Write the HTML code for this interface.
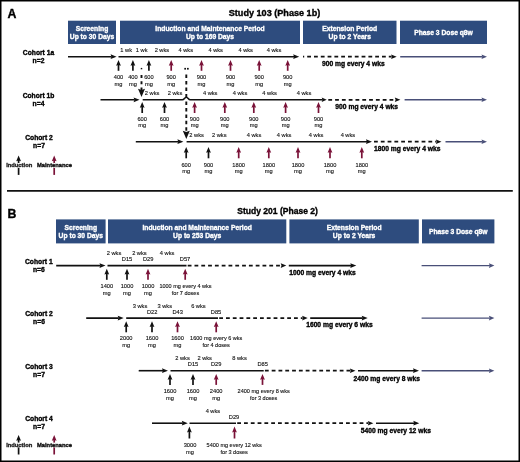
<!DOCTYPE html>
<html><head><meta charset="utf-8"><title>Study dosing schema</title>
<style>
html,body{margin:0;padding:0;background:#fff;}
body{width:520px;height:462px;overflow:hidden;position:relative;}
svg{position:absolute;left:0;top:0;display:block;will-change:transform;font-family:"Liberation Sans", sans-serif;}
</style></head><body>
<svg width="520" height="462" viewBox="0 0 520 462">
<rect x="0" y="0" width="520" height="462" fill="#fff"/>
<text x="7.6" y="17.6" font-size="12.3" font-weight="bold" stroke="#000" stroke-width="0.35" text-anchor="start" fill="#000">A</text>
<text transform="translate(274.5 16.0) scale(0.98 1)" font-size="9.3" font-weight="bold" stroke="#000" stroke-width="0.35" text-anchor="middle" fill="#000">Study 103 (Phase 1b)</text>
<rect x="68" y="20.7" width="48" height="23.3" fill="#2e4c7e"/>
<text transform="translate(92.0 31.0) scale(0.96 1)" font-size="7.0" font-weight="bold" stroke="#fff" stroke-width="0.35" text-anchor="middle" fill="#fff">Screening</text>
<text transform="translate(92.0 39.1) scale(0.96 1)" font-size="7.0" font-weight="bold" stroke="#fff" stroke-width="0.35" text-anchor="middle" fill="#fff">Up to 30 Days</text>
<rect x="120" y="20.7" width="180" height="23.3" fill="#2e4c7e"/>
<text transform="translate(210.0 31.0) scale(0.96 1)" font-size="7.0" font-weight="bold" stroke="#fff" stroke-width="0.35" text-anchor="middle" fill="#fff">Induction and Maintenance Period</text>
<text transform="translate(210.0 39.1) scale(0.96 1)" font-size="7.0" font-weight="bold" stroke="#fff" stroke-width="0.35" text-anchor="middle" fill="#fff">Up to 169 Days</text>
<rect x="303" y="20.7" width="93.5" height="23.3" fill="#2e4c7e"/>
<text transform="translate(349.75 31.0) scale(0.96 1)" font-size="7.0" font-weight="bold" stroke="#fff" stroke-width="0.35" text-anchor="middle" fill="#fff">Extension Period</text>
<text transform="translate(349.75 39.1) scale(0.96 1)" font-size="7.0" font-weight="bold" stroke="#fff" stroke-width="0.35" text-anchor="middle" fill="#fff">Up to 2 Years</text>
<rect x="400" y="20.7" width="87" height="23.3" fill="#2e4c7e"/>
<text transform="translate(443.5 35.0) scale(0.96 1)" font-size="7.0" font-weight="bold" stroke="#fff" stroke-width="0.35" text-anchor="middle" fill="#fff">Phase 3 Dose q8w</text>
<text transform="translate(38.5 55.0) scale(0.96 1)" font-size="7.0" font-weight="bold" stroke="#000" stroke-width="0.35" text-anchor="middle" fill="#000">Cohort 1a</text>
<text transform="translate(38.5 63.2) scale(0.96 1)" font-size="7.0" font-weight="bold" stroke="#000" stroke-width="0.35" text-anchor="middle" fill="#000">n=2</text>
<text transform="translate(38.5 97.6) scale(0.96 1)" font-size="7.0" font-weight="bold" stroke="#000" stroke-width="0.35" text-anchor="middle" fill="#000">Cohort 1b</text>
<text transform="translate(38.5 105.8) scale(0.96 1)" font-size="7.0" font-weight="bold" stroke="#000" stroke-width="0.35" text-anchor="middle" fill="#000">n=4</text>
<text transform="translate(39 140.0) scale(0.96 1)" font-size="7.0" font-weight="bold" stroke="#000" stroke-width="0.35" text-anchor="middle" fill="#000">Cohort 2</text>
<text transform="translate(39 148.2) scale(0.96 1)" font-size="7.0" font-weight="bold" stroke="#000" stroke-width="0.35" text-anchor="middle" fill="#000">n=7</text>
<line x1="68" y1="56.7" x2="111.6" y2="56.7" stroke="#111" stroke-width="1.6"/>
<polygon points="116.6,56.7 110.6,54.3 111.4,56.7 110.6,59.1" fill="#111"/>
<line x1="118.5" y1="56.7" x2="294.2" y2="56.7" stroke="#111" stroke-width="1.6"/>
<polygon points="299.2,56.7 293.2,54.3 294.0,56.7 293.2,59.1" fill="#111"/>
<line x1="303.0" y1="56.7" x2="391.6" y2="56.7" stroke="#111" stroke-width="1.8" stroke-dasharray="3.8 3.0" stroke-dashoffset="2.6"/>
<polygon points="396.7,56.7 391.1,54.4 391.9,56.7 391.1,59.0" fill="#111"/>
<line x1="400.2" y1="56.7" x2="482.5" y2="56.7" stroke="#494f78" stroke-width="1.4"/>
<polygon points="487,56.7 481.5,54.4 482.3,56.7 481.5,59.0" fill="#494f78"/>
<line x1="118.5" y1="64.0" x2="118.5" y2="70.8" stroke="#111" stroke-width="1.7"/>
<polygon points="118.5,60.0 116.1,65.8 118.5,65.0 120.9,65.8" fill="#111"/>
<line x1="132.9" y1="64.0" x2="132.9" y2="70.8" stroke="#111" stroke-width="1.7"/>
<polygon points="132.9,60.0 130.5,65.8 132.9,65.0 135.3,65.8" fill="#111"/>
<line x1="148.9" y1="64.0" x2="148.9" y2="70.8" stroke="#111" stroke-width="1.7"/>
<polygon points="148.9,60.0 146.5,65.8 148.9,65.0 151.3,65.8" fill="#111"/>
<line x1="171.2" y1="64.0" x2="171.2" y2="70.8" stroke="#7a1238" stroke-width="1.7"/>
<polygon points="171.2,60.0 168.8,65.8 171.2,65.0 173.6,65.8" fill="#7a1238"/>
<line x1="201.5" y1="64.0" x2="201.5" y2="70.8" stroke="#7a1238" stroke-width="1.7"/>
<polygon points="201.5,60.0 199.1,65.8 201.5,65.0 203.9,65.8" fill="#7a1238"/>
<line x1="230.5" y1="64.0" x2="230.5" y2="70.8" stroke="#7a1238" stroke-width="1.7"/>
<polygon points="230.5,60.0 228.1,65.8 230.5,65.0 232.9,65.8" fill="#7a1238"/>
<line x1="259.2" y1="64.0" x2="259.2" y2="70.8" stroke="#7a1238" stroke-width="1.7"/>
<polygon points="259.2,60.0 256.8,65.8 259.2,65.0 261.6,65.8" fill="#7a1238"/>
<line x1="287.7" y1="64.0" x2="287.7" y2="70.8" stroke="#7a1238" stroke-width="1.7"/>
<polygon points="287.7,60.0 285.3,65.8 287.7,65.0 290.1,65.8" fill="#7a1238"/>
<text x="118.5" y="79.0" font-size="5.7" stroke="#111" stroke-width="0.12" text-anchor="middle" fill="#111">400</text>
<text x="118.5" y="85.6" font-size="5.7" stroke="#111" stroke-width="0.12" text-anchor="middle" fill="#111">mg</text>
<text x="132.9" y="79.0" font-size="5.7" stroke="#111" stroke-width="0.12" text-anchor="middle" fill="#111">400</text>
<text x="132.9" y="85.6" font-size="5.7" stroke="#111" stroke-width="0.12" text-anchor="middle" fill="#111">mg</text>
<text x="148.9" y="79.0" font-size="5.7" stroke="#111" stroke-width="0.12" text-anchor="middle" fill="#111">600</text>
<text x="148.9" y="85.6" font-size="5.7" stroke="#111" stroke-width="0.12" text-anchor="middle" fill="#111">mg</text>
<text x="171.2" y="79.0" font-size="5.7" stroke="#111" stroke-width="0.12" text-anchor="middle" fill="#111">900</text>
<text x="171.2" y="85.6" font-size="5.7" stroke="#111" stroke-width="0.12" text-anchor="middle" fill="#111">mg</text>
<text x="201.5" y="79.0" font-size="5.7" stroke="#111" stroke-width="0.12" text-anchor="middle" fill="#111">900</text>
<text x="201.5" y="85.6" font-size="5.7" stroke="#111" stroke-width="0.12" text-anchor="middle" fill="#111">mg</text>
<text x="230.5" y="79.0" font-size="5.7" stroke="#111" stroke-width="0.12" text-anchor="middle" fill="#111">900</text>
<text x="230.5" y="85.6" font-size="5.7" stroke="#111" stroke-width="0.12" text-anchor="middle" fill="#111">mg</text>
<text x="259.2" y="79.0" font-size="5.7" stroke="#111" stroke-width="0.12" text-anchor="middle" fill="#111">900</text>
<text x="259.2" y="85.6" font-size="5.7" stroke="#111" stroke-width="0.12" text-anchor="middle" fill="#111">mg</text>
<text x="287.7" y="79.0" font-size="5.7" stroke="#111" stroke-width="0.12" text-anchor="middle" fill="#111">900</text>
<text x="287.7" y="85.6" font-size="5.7" stroke="#111" stroke-width="0.12" text-anchor="middle" fill="#111">mg</text>
<text x="126.2" y="52.0" font-size="5.7" stroke="#111" stroke-width="0.12" text-anchor="middle" fill="#111">1 wk</text>
<text x="141.7" y="52.0" font-size="5.7" stroke="#111" stroke-width="0.12" text-anchor="middle" fill="#111">1 wk</text>
<text x="161.9" y="52.0" font-size="5.7" stroke="#111" stroke-width="0.12" text-anchor="middle" fill="#111">2 wks</text>
<text x="185.8" y="52.0" font-size="5.7" stroke="#111" stroke-width="0.12" text-anchor="middle" fill="#111">4 wks</text>
<text x="215.7" y="52.0" font-size="5.7" stroke="#111" stroke-width="0.12" text-anchor="middle" fill="#111">4 wks</text>
<text x="245.7" y="52.0" font-size="5.7" stroke="#111" stroke-width="0.12" text-anchor="middle" fill="#111">4 wks</text>
<text x="274.0" y="52.0" font-size="5.7" stroke="#111" stroke-width="0.12" text-anchor="middle" fill="#111">4 wks</text>
<text transform="translate(353.3 66.0) scale(0.96 1)" font-size="7.0" font-weight="bold" stroke="#000" stroke-width="0.35" text-anchor="middle" fill="#000">900 mg every 4 wks</text>
<line x1="100.5" y1="99.8" x2="134.6" y2="99.8" stroke="#111" stroke-width="1.6"/>
<polygon points="139.6,99.8 133.6,97.4 134.4,99.8 133.6,102.2" fill="#111"/>
<path d="M142.7 99.8 H182.4 C184.2 99.8 184.6 97.2 186.3 97.2 C188.0 97.2 188.4 99.8 190.2 99.8 H322.7" stroke="#111" stroke-width="1.6" fill="none"/>
<polygon points="326.7,99.8 321.7,97.6 322.5,99.8 321.7,102.0" fill="#111"/>
<line x1="328.3" y1="99.8" x2="395.3" y2="99.8" stroke="#111" stroke-width="1.8" stroke-dasharray="3.8 3.0"/>
<polygon points="400.4,99.8 394.8,97.5 395.6,99.8 394.8,102.1" fill="#111"/>
<line x1="404.6" y1="99.8" x2="482.5" y2="99.8" stroke="#494f78" stroke-width="1.4"/>
<polygon points="487,99.8 481.5,97.5 482.3,99.8 481.5,102.1" fill="#494f78"/>
<line x1="142.2" y1="105.9" x2="142.2" y2="113.0" stroke="#111" stroke-width="1.7"/>
<polygon points="142.2,101.9 139.8,107.7 142.2,106.9 144.6,107.7" fill="#111"/>
<line x1="164.5" y1="105.9" x2="164.5" y2="113.0" stroke="#111" stroke-width="1.7"/>
<polygon points="164.5,101.9 162.1,107.7 164.5,106.9 166.9,107.7" fill="#111"/>
<line x1="194.6" y1="105.9" x2="194.6" y2="113.0" stroke="#7a1238" stroke-width="1.7"/>
<polygon points="194.6,101.9 192.2,107.7 194.6,106.9 197.0,107.7" fill="#7a1238"/>
<line x1="224.8" y1="105.9" x2="224.8" y2="113.0" stroke="#7a1238" stroke-width="1.7"/>
<polygon points="224.8,101.9 222.4,107.7 224.8,106.9 227.2,107.7" fill="#7a1238"/>
<line x1="253.8" y1="105.9" x2="253.8" y2="113.0" stroke="#7a1238" stroke-width="1.7"/>
<polygon points="253.8,101.9 251.4,107.7 253.8,106.9 256.2,107.7" fill="#7a1238"/>
<line x1="285.6" y1="105.9" x2="285.6" y2="113.0" stroke="#7a1238" stroke-width="1.7"/>
<polygon points="285.6,101.9 283.2,107.7 285.6,106.9 288.0,107.7" fill="#7a1238"/>
<line x1="318.5" y1="105.9" x2="318.5" y2="113.0" stroke="#7a1238" stroke-width="1.7"/>
<polygon points="318.5,101.9 316.1,107.7 318.5,106.9 320.9,107.7" fill="#7a1238"/>
<text x="142.2" y="120.7" font-size="5.7" stroke="#111" stroke-width="0.12" text-anchor="middle" fill="#111">600</text>
<text x="142.2" y="127.3" font-size="5.7" stroke="#111" stroke-width="0.12" text-anchor="middle" fill="#111">mg</text>
<text x="164.5" y="120.7" font-size="5.7" stroke="#111" stroke-width="0.12" text-anchor="middle" fill="#111">600</text>
<text x="164.5" y="127.3" font-size="5.7" stroke="#111" stroke-width="0.12" text-anchor="middle" fill="#111">mg</text>
<text x="194.6" y="120.7" font-size="5.7" stroke="#111" stroke-width="0.12" text-anchor="middle" fill="#111">900</text>
<text x="194.6" y="127.3" font-size="5.7" stroke="#111" stroke-width="0.12" text-anchor="middle" fill="#111">mg</text>
<text x="224.8" y="120.7" font-size="5.7" stroke="#111" stroke-width="0.12" text-anchor="middle" fill="#111">900</text>
<text x="224.8" y="127.3" font-size="5.7" stroke="#111" stroke-width="0.12" text-anchor="middle" fill="#111">mg</text>
<text x="253.8" y="120.7" font-size="5.7" stroke="#111" stroke-width="0.12" text-anchor="middle" fill="#111">900</text>
<text x="253.8" y="127.3" font-size="5.7" stroke="#111" stroke-width="0.12" text-anchor="middle" fill="#111">mg</text>
<text x="285.6" y="120.7" font-size="5.7" stroke="#111" stroke-width="0.12" text-anchor="middle" fill="#111">900</text>
<text x="285.6" y="127.3" font-size="5.7" stroke="#111" stroke-width="0.12" text-anchor="middle" fill="#111">mg</text>
<text x="318.5" y="120.7" font-size="5.7" stroke="#111" stroke-width="0.12" text-anchor="middle" fill="#111">900</text>
<text x="318.5" y="127.3" font-size="5.7" stroke="#111" stroke-width="0.12" text-anchor="middle" fill="#111">mg</text>
<text x="152.1" y="95.4" font-size="5.7" stroke="#111" stroke-width="0.12" text-anchor="middle" fill="#111">2 wks</text>
<text x="175.0" y="95.4" font-size="5.7" stroke="#111" stroke-width="0.12" text-anchor="middle" fill="#111">2 wks</text>
<text x="210.2" y="95.4" font-size="5.7" stroke="#111" stroke-width="0.12" text-anchor="middle" fill="#111">4 wks</text>
<text x="240.0" y="95.4" font-size="5.7" stroke="#111" stroke-width="0.12" text-anchor="middle" fill="#111">4 wks</text>
<text x="269.6" y="95.4" font-size="5.7" stroke="#111" stroke-width="0.12" text-anchor="middle" fill="#111">4 wks</text>
<text x="304.0" y="95.4" font-size="5.7" stroke="#111" stroke-width="0.12" text-anchor="middle" fill="#111">4 wks</text>
<text transform="translate(366.7 108.7) scale(0.96 1)" font-size="7.0" font-weight="bold" stroke="#000" stroke-width="0.35" text-anchor="middle" fill="#000">900 mg every 4 wks</text>
<line x1="135.8" y1="141.7" x2="178.4" y2="141.7" stroke="#111" stroke-width="1.6"/>
<polygon points="183.4,141.7 177.4,139.3 178.2,141.7 177.4,144.1" fill="#111"/>
<line x1="186.6" y1="141.7" x2="367.0" y2="141.7" stroke="#111" stroke-width="1.6"/>
<polygon points="372.0,141.7 366.0,139.3 366.8,141.7 366.0,144.1" fill="#111"/>
<line x1="374.0" y1="141.7" x2="436.4" y2="141.7" stroke="#111" stroke-width="1.8" stroke-dasharray="3.8 3.0"/>
<polygon points="441.5,141.7 435.9,139.4 436.7,141.7 435.9,144.0" fill="#111"/>
<line x1="445.5" y1="141.7" x2="482.5" y2="141.7" stroke="#494f78" stroke-width="1.4"/>
<polygon points="487,141.7 481.5,139.4 482.3,141.7 481.5,144.0" fill="#494f78"/>
<line x1="186.2" y1="150.9" x2="186.2" y2="158.3" stroke="#111" stroke-width="1.7"/>
<polygon points="186.2,146.9 183.8,152.7 186.2,151.9 188.6,152.7" fill="#111"/>
<line x1="208.5" y1="150.9" x2="208.5" y2="158.3" stroke="#111" stroke-width="1.7"/>
<polygon points="208.5,146.9 206.1,152.7 208.5,151.9 210.9,152.7" fill="#111"/>
<line x1="238.7" y1="150.9" x2="238.7" y2="158.3" stroke="#7a1238" stroke-width="1.7"/>
<polygon points="238.7,146.9 236.3,152.7 238.7,151.9 241.1,152.7" fill="#7a1238"/>
<line x1="268.8" y1="150.9" x2="268.8" y2="158.3" stroke="#7a1238" stroke-width="1.7"/>
<polygon points="268.8,146.9 266.4,152.7 268.8,151.9 271.2,152.7" fill="#7a1238"/>
<line x1="298.0" y1="150.9" x2="298.0" y2="158.3" stroke="#7a1238" stroke-width="1.7"/>
<polygon points="298.0,146.9 295.6,152.7 298.0,151.9 300.4,152.7" fill="#7a1238"/>
<line x1="330.0" y1="150.9" x2="330.0" y2="158.3" stroke="#7a1238" stroke-width="1.7"/>
<polygon points="330.0,146.9 327.6,152.7 330.0,151.9 332.4,152.7" fill="#7a1238"/>
<line x1="361.8" y1="150.9" x2="361.8" y2="158.3" stroke="#7a1238" stroke-width="1.7"/>
<polygon points="361.8,146.9 359.4,152.7 361.8,151.9 364.2,152.7" fill="#7a1238"/>
<text x="186.2" y="166.5" font-size="5.7" stroke="#111" stroke-width="0.12" text-anchor="middle" fill="#111">600</text>
<text x="186.2" y="173.1" font-size="5.7" stroke="#111" stroke-width="0.12" text-anchor="middle" fill="#111">mg</text>
<text x="208.5" y="166.5" font-size="5.7" stroke="#111" stroke-width="0.12" text-anchor="middle" fill="#111">900</text>
<text x="208.5" y="173.1" font-size="5.7" stroke="#111" stroke-width="0.12" text-anchor="middle" fill="#111">mg</text>
<text x="238.7" y="166.5" font-size="5.7" stroke="#111" stroke-width="0.12" text-anchor="middle" fill="#111">1800</text>
<text x="238.7" y="173.1" font-size="5.7" stroke="#111" stroke-width="0.12" text-anchor="middle" fill="#111">mg</text>
<text x="268.8" y="166.5" font-size="5.7" stroke="#111" stroke-width="0.12" text-anchor="middle" fill="#111">1800</text>
<text x="268.8" y="173.1" font-size="5.7" stroke="#111" stroke-width="0.12" text-anchor="middle" fill="#111">mg</text>
<text x="298.0" y="166.5" font-size="5.7" stroke="#111" stroke-width="0.12" text-anchor="middle" fill="#111">1800</text>
<text x="298.0" y="173.1" font-size="5.7" stroke="#111" stroke-width="0.12" text-anchor="middle" fill="#111">mg</text>
<text x="330.0" y="166.5" font-size="5.7" stroke="#111" stroke-width="0.12" text-anchor="middle" fill="#111">1800</text>
<text x="330.0" y="173.1" font-size="5.7" stroke="#111" stroke-width="0.12" text-anchor="middle" fill="#111">mg</text>
<text x="361.8" y="166.5" font-size="5.7" stroke="#111" stroke-width="0.12" text-anchor="middle" fill="#111">1800</text>
<text x="361.8" y="173.1" font-size="5.7" stroke="#111" stroke-width="0.12" text-anchor="middle" fill="#111">mg</text>
<text x="196.6" y="137.0" font-size="5.7" stroke="#111" stroke-width="0.12" text-anchor="middle" fill="#111">2 wks</text>
<text x="219.3" y="137.0" font-size="5.7" stroke="#111" stroke-width="0.12" text-anchor="middle" fill="#111">2 wks</text>
<text x="254.0" y="137.0" font-size="5.7" stroke="#111" stroke-width="0.12" text-anchor="middle" fill="#111">4 wks</text>
<text x="284.1" y="137.0" font-size="5.7" stroke="#111" stroke-width="0.12" text-anchor="middle" fill="#111">4 wks</text>
<text x="316.1" y="137.0" font-size="5.7" stroke="#111" stroke-width="0.12" text-anchor="middle" fill="#111">4 wks</text>
<text x="347.9" y="137.0" font-size="5.7" stroke="#111" stroke-width="0.12" text-anchor="middle" fill="#111">4 wks</text>
<text transform="translate(407.2 151.0) scale(0.96 1)" font-size="7.0" font-weight="bold" stroke="#000" stroke-width="0.35" text-anchor="middle" fill="#000">1800 mg every 4 wks</text>
<line x1="141.5" y1="67.9" x2="141.5" y2="69.3" stroke="#111" stroke-width="1.5"/>
<line x1="141.5" y1="75.0" x2="141.5" y2="90.5" stroke="#111" stroke-width="1.9" stroke-dasharray="3 3.3"/>
<polygon points="141.5,97.0 138.0,88.7 141.5,89.9 145.0,88.7" fill="#111"/>
<rect x="184.3" y="67.9" width="1.7" height="1.7" fill="#111"/>
<rect x="187.0" y="67.9" width="1.7" height="1.7" fill="#111"/>
<line x1="186.3" y1="74.4" x2="186.3" y2="97.0" stroke="#111" stroke-width="1.9" stroke-dasharray="3.5 3"/>
<line x1="186.3" y1="101.6" x2="186.3" y2="131.5" stroke="#111" stroke-width="1.9" stroke-dasharray="3.5 2.9"/>
<polygon points="186.3,139.0 182.8,130.7 186.3,131.9 189.8,130.7" fill="#111"/>
<line x1="18.6" y1="159.4" x2="18.6" y2="174.9" stroke="#111" stroke-width="1.7"/>
<polygon points="18.6,155.4 16.2,161.2 18.6,160.4 21.0,161.2" fill="#111"/>
<line x1="54.2" y1="159.4" x2="54.2" y2="174.9" stroke="#7a1238" stroke-width="1.7"/>
<polygon points="54.2,155.4 51.8,161.2 54.2,160.4 56.6,161.2" fill="#7a1238"/>
<rect x="5" y="163.0" width="28" height="4.8" fill="#fff"/>
<rect x="36" y="163.0" width="37" height="4.8" fill="#fff"/>
<text x="19.2" y="167.4" font-size="5.8" font-weight="bold" stroke="#222" stroke-width="0.35" text-anchor="middle" fill="#222">Induction</text>
<text x="54.5" y="167.4" font-size="5.8" font-weight="bold" stroke="#111" stroke-width="0.35" text-anchor="middle" fill="#111">Maintenance</text>
<line x1="7" y1="190.9" x2="512.8" y2="190.9" stroke="#111" stroke-width="1.8"/>
<text x="7.6" y="217.6" font-size="12.3" font-weight="bold" stroke="#000" stroke-width="0.35" text-anchor="start" fill="#000">B</text>
<text transform="translate(277.6 214.3) scale(0.95 1)" font-size="9.0" font-weight="bold" stroke="#000" stroke-width="0.35" text-anchor="middle" fill="#000">Study 201 (Phase 2)</text>
<rect x="56" y="219.4" width="49.6" height="24.0" fill="#2e4c7e"/>
<text transform="translate(80.8 229.7) scale(0.96 1)" font-size="7.0" font-weight="bold" stroke="#fff" stroke-width="0.35" text-anchor="middle" fill="#fff">Screening</text>
<text transform="translate(80.8 237.8) scale(0.96 1)" font-size="7.0" font-weight="bold" stroke="#fff" stroke-width="0.35" text-anchor="middle" fill="#fff">Up to 30 Days</text>
<rect x="108" y="219.4" width="178.3" height="24.0" fill="#2e4c7e"/>
<text transform="translate(197.15 229.7) scale(0.96 1)" font-size="7.0" font-weight="bold" stroke="#fff" stroke-width="0.35" text-anchor="middle" fill="#fff">Induction and Maintenance Period</text>
<text transform="translate(197.15 237.8) scale(0.96 1)" font-size="7.0" font-weight="bold" stroke="#fff" stroke-width="0.35" text-anchor="middle" fill="#fff">Up to 253 Days</text>
<rect x="289.4" y="219.4" width="129.4" height="24.0" fill="#2e4c7e"/>
<text transform="translate(354.1 229.7) scale(0.96 1)" font-size="7.0" font-weight="bold" stroke="#fff" stroke-width="0.35" text-anchor="middle" fill="#fff">Extension Period</text>
<text transform="translate(354.1 237.8) scale(0.96 1)" font-size="7.0" font-weight="bold" stroke="#fff" stroke-width="0.35" text-anchor="middle" fill="#fff">Up to 2 Years</text>
<rect x="422" y="219.4" width="72.4" height="24.0" fill="#2e4c7e"/>
<text transform="translate(458.2 233.7) scale(0.96 1)" font-size="7.0" font-weight="bold" stroke="#fff" stroke-width="0.35" text-anchor="middle" fill="#fff">Phase 3 Dose q8w</text>
<text transform="translate(38.8 263.5) scale(0.96 1)" font-size="7.0" font-weight="bold" stroke="#000" stroke-width="0.35" text-anchor="middle" fill="#000">Cohort 1</text>
<text transform="translate(38.8 271.7) scale(0.96 1)" font-size="7.0" font-weight="bold" stroke="#000" stroke-width="0.35" text-anchor="middle" fill="#000">n=6</text>
<text transform="translate(39 316.0) scale(0.96 1)" font-size="7.0" font-weight="bold" stroke="#000" stroke-width="0.35" text-anchor="middle" fill="#000">Cohort 2</text>
<text transform="translate(39 324.2) scale(0.96 1)" font-size="7.0" font-weight="bold" stroke="#000" stroke-width="0.35" text-anchor="middle" fill="#000">n=6</text>
<text transform="translate(39 368.5) scale(0.96 1)" font-size="7.0" font-weight="bold" stroke="#000" stroke-width="0.35" text-anchor="middle" fill="#000">Cohort 3</text>
<text transform="translate(39 376.7) scale(0.96 1)" font-size="7.0" font-weight="bold" stroke="#000" stroke-width="0.35" text-anchor="middle" fill="#000">n=7</text>
<text transform="translate(39 421.0) scale(0.96 1)" font-size="7.0" font-weight="bold" stroke="#000" stroke-width="0.35" text-anchor="middle" fill="#000">Cohort 4</text>
<text transform="translate(39 429.2) scale(0.96 1)" font-size="7.0" font-weight="bold" stroke="#000" stroke-width="0.35" text-anchor="middle" fill="#000">n=7</text>
<line x1="56.2" y1="265.6" x2="100.5" y2="265.6" stroke="#111" stroke-width="1.6"/>
<polygon points="105.5,265.6 99.5,263.2 100.3,265.6 99.5,268.0" fill="#111"/>
<line x1="107.5" y1="265.6" x2="186.5" y2="265.6" stroke="#111" stroke-width="1.6"/>
<line x1="187.7" y1="265.6" x2="281.2" y2="265.6" stroke="#111" stroke-width="1.8" stroke-dasharray="3.8 3.0"/>
<polygon points="286.3,265.6 280.7,263.3 281.5,265.6 280.7,267.9" fill="#111"/>
<line x1="288.8" y1="265.6" x2="351.3" y2="265.6" stroke="#111" stroke-width="1.6"/>
<polygon points="356.3,265.6 350.3,263.2 351.1,265.6 350.3,268.0" fill="#111"/>
<line x1="421.6" y1="265.6" x2="489.9" y2="265.6" stroke="#494f78" stroke-width="1.4"/>
<polygon points="494.4,265.6 488.9,263.3 489.7,265.6 488.9,267.9" fill="#494f78"/>
<line x1="106.8" y1="272.8" x2="106.8" y2="279.8" stroke="#111" stroke-width="1.7"/>
<polygon points="106.8,268.8 104.4,274.6 106.8,273.8 109.2,274.6" fill="#111"/>
<line x1="127.0" y1="272.8" x2="127.0" y2="279.8" stroke="#111" stroke-width="1.7"/>
<polygon points="127.0,268.8 124.6,274.6 127.0,273.8 129.4,274.6" fill="#111"/>
<line x1="148.0" y1="272.8" x2="148.0" y2="279.8" stroke="#7a1238" stroke-width="1.7"/>
<polygon points="148.0,268.8 145.6,274.6 148.0,273.8 150.4,274.6" fill="#7a1238"/>
<line x1="185.2" y1="272.8" x2="185.2" y2="279.8" stroke="#7a1238" stroke-width="1.7"/>
<polygon points="185.2,268.8 182.8,274.6 185.2,273.8 187.6,274.6" fill="#7a1238"/>
<text x="106.8" y="287.8" font-size="5.7" stroke="#111" stroke-width="0.12" text-anchor="middle" fill="#111">1400</text>
<text x="106.8" y="294.7" font-size="5.7" stroke="#111" stroke-width="0.12" text-anchor="middle" fill="#111">mg</text>
<text x="127.0" y="287.8" font-size="5.7" stroke="#111" stroke-width="0.12" text-anchor="middle" fill="#111">1000</text>
<text x="127.0" y="294.7" font-size="5.7" stroke="#111" stroke-width="0.12" text-anchor="middle" fill="#111">mg</text>
<text x="148.0" y="287.8" font-size="5.7" stroke="#111" stroke-width="0.12" text-anchor="middle" fill="#111">1000</text>
<text x="148.0" y="294.7" font-size="5.7" stroke="#111" stroke-width="0.12" text-anchor="middle" fill="#111">mg</text>
<text transform="translate(185.5 287.8) scale(0.97 1)" font-size="5.7" stroke="#111" stroke-width="0.12" text-anchor="middle" fill="#111">1000 mg every 4 wks</text>
<text transform="translate(185.5 294.7) scale(0.97 1)" font-size="5.7" stroke="#111" stroke-width="0.12" text-anchor="middle" fill="#111">for 7 doses</text>
<text x="114.0" y="255.3" font-size="5.7" stroke="#111" stroke-width="0.12" text-anchor="middle" fill="#111">2 wks</text>
<text x="139.4" y="255.3" font-size="5.7" stroke="#111" stroke-width="0.12" text-anchor="middle" fill="#111">2 wks</text>
<text x="167.1" y="255.3" font-size="5.7" stroke="#111" stroke-width="0.12" text-anchor="middle" fill="#111">4 wks</text>
<text x="127.0" y="261.1" font-size="5.7" stroke="#111" stroke-width="0.12" text-anchor="middle" fill="#111">D15</text>
<text x="148.2" y="261.1" font-size="5.7" stroke="#111" stroke-width="0.12" text-anchor="middle" fill="#111">D29</text>
<text x="185.0" y="261.1" font-size="5.7" stroke="#111" stroke-width="0.12" text-anchor="middle" fill="#111">D57</text>
<text transform="translate(322.5 274.7) scale(0.96 1)" font-size="7.0" font-weight="bold" stroke="#000" stroke-width="0.35" text-anchor="middle" fill="#000">1000 mg every 4 wks</text>
<line x1="86.2" y1="318.1" x2="118.7" y2="318.1" stroke="#111" stroke-width="1.6"/>
<polygon points="123.7,318.1 117.7,315.7 118.5,318.1 117.7,320.5" fill="#111"/>
<line x1="126.2" y1="318.1" x2="218.0" y2="318.1" stroke="#111" stroke-width="1.6"/>
<line x1="219.2" y1="318.1" x2="302.6" y2="318.1" stroke="#111" stroke-width="1.8" stroke-dasharray="3.8 3.0"/>
<polygon points="307.7,318.1 302.1,315.8 302.9,318.1 302.1,320.4" fill="#111"/>
<line x1="310.2" y1="318.1" x2="362.7" y2="318.1" stroke="#111" stroke-width="1.6"/>
<polygon points="367.7,318.1 361.7,315.7 362.5,318.1 361.7,320.5" fill="#111"/>
<line x1="421.6" y1="318.1" x2="489.9" y2="318.1" stroke="#494f78" stroke-width="1.4"/>
<polygon points="494.4,318.1 488.9,315.8 489.7,318.1 488.9,320.4" fill="#494f78"/>
<line x1="126.2" y1="325.3" x2="126.2" y2="332.3" stroke="#111" stroke-width="1.7"/>
<polygon points="126.2,321.3 123.8,327.1 126.2,326.3 128.6,327.1" fill="#111"/>
<line x1="152.0" y1="325.3" x2="152.0" y2="332.3" stroke="#111" stroke-width="1.7"/>
<polygon points="152.0,321.3 149.6,327.1 152.0,326.3 154.4,327.1" fill="#111"/>
<line x1="177.5" y1="325.3" x2="177.5" y2="332.3" stroke="#7a1238" stroke-width="1.7"/>
<polygon points="177.5,321.3 175.1,327.1 177.5,326.3 179.9,327.1" fill="#7a1238"/>
<line x1="216.2" y1="325.3" x2="216.2" y2="332.3" stroke="#7a1238" stroke-width="1.7"/>
<polygon points="216.2,321.3 213.8,327.1 216.2,326.3 218.6,327.1" fill="#7a1238"/>
<text x="126.2" y="340.3" font-size="5.7" stroke="#111" stroke-width="0.12" text-anchor="middle" fill="#111">2000</text>
<text x="126.2" y="347.2" font-size="5.7" stroke="#111" stroke-width="0.12" text-anchor="middle" fill="#111">mg</text>
<text x="152.0" y="340.3" font-size="5.7" stroke="#111" stroke-width="0.12" text-anchor="middle" fill="#111">1600</text>
<text x="152.0" y="347.2" font-size="5.7" stroke="#111" stroke-width="0.12" text-anchor="middle" fill="#111">mg</text>
<text x="177.5" y="340.3" font-size="5.7" stroke="#111" stroke-width="0.12" text-anchor="middle" fill="#111">1600</text>
<text x="177.5" y="347.2" font-size="5.7" stroke="#111" stroke-width="0.12" text-anchor="middle" fill="#111">mg</text>
<text transform="translate(216.2 340.3) scale(0.97 1)" font-size="5.7" stroke="#111" stroke-width="0.12" text-anchor="middle" fill="#111">1600 mg every 6 wks</text>
<text transform="translate(216.2 347.2) scale(0.97 1)" font-size="5.7" stroke="#111" stroke-width="0.12" text-anchor="middle" fill="#111">for 4 doses</text>
<text x="140.0" y="307.8" font-size="5.7" stroke="#111" stroke-width="0.12" text-anchor="middle" fill="#111">3 wks</text>
<text x="164.8" y="307.8" font-size="5.7" stroke="#111" stroke-width="0.12" text-anchor="middle" fill="#111">3 wks</text>
<text x="198.4" y="307.8" font-size="5.7" stroke="#111" stroke-width="0.12" text-anchor="middle" fill="#111">6 wks</text>
<text x="152.2" y="313.6" font-size="5.7" stroke="#111" stroke-width="0.12" text-anchor="middle" fill="#111">D22</text>
<text x="177.7" y="313.6" font-size="5.7" stroke="#111" stroke-width="0.12" text-anchor="middle" fill="#111">D43</text>
<text x="216.0" y="313.6" font-size="5.7" stroke="#111" stroke-width="0.12" text-anchor="middle" fill="#111">D85</text>
<text transform="translate(339.4 326.7) scale(0.96 1)" font-size="7.0" font-weight="bold" stroke="#000" stroke-width="0.35" text-anchor="middle" fill="#000">1600 mg every 6 wks</text>
<line x1="138.7" y1="370.7" x2="163.0" y2="370.7" stroke="#111" stroke-width="1.6"/>
<polygon points="168.0,370.7 162.0,368.3 162.8,370.7 162.0,373.1" fill="#111"/>
<line x1="170.5" y1="370.7" x2="263.7" y2="370.7" stroke="#111" stroke-width="1.6"/>
<line x1="264.9" y1="370.7" x2="350.4" y2="370.7" stroke="#111" stroke-width="1.8" stroke-dasharray="3.8 3.0"/>
<polygon points="355.5,370.7 349.9,368.4 350.7,370.7 349.9,373.0" fill="#111"/>
<line x1="358.0" y1="370.7" x2="414.0" y2="370.7" stroke="#111" stroke-width="1.6"/>
<polygon points="419.0,370.7 413.0,368.3 413.8,370.7 413.0,373.1" fill="#111"/>
<line x1="421.6" y1="370.7" x2="489.9" y2="370.7" stroke="#494f78" stroke-width="1.4"/>
<polygon points="494.4,370.7 488.9,368.4 489.7,370.7 488.9,373.0" fill="#494f78"/>
<line x1="170.0" y1="377.9" x2="170.0" y2="384.9" stroke="#111" stroke-width="1.7"/>
<polygon points="170.0,373.9 167.6,379.7 170.0,378.9 172.4,379.7" fill="#111"/>
<line x1="193.0" y1="377.9" x2="193.0" y2="384.9" stroke="#111" stroke-width="1.7"/>
<polygon points="193.0,373.9 190.6,379.7 193.0,378.9 195.4,379.7" fill="#111"/>
<line x1="216.2" y1="377.9" x2="216.2" y2="384.9" stroke="#7a1238" stroke-width="1.7"/>
<polygon points="216.2,373.9 213.8,379.7 216.2,378.9 218.6,379.7" fill="#7a1238"/>
<line x1="262.5" y1="377.9" x2="262.5" y2="384.9" stroke="#7a1238" stroke-width="1.7"/>
<polygon points="262.5,373.9 260.1,379.7 262.5,378.9 264.9,379.7" fill="#7a1238"/>
<text x="170.0" y="392.9" font-size="5.7" stroke="#111" stroke-width="0.12" text-anchor="middle" fill="#111">1600</text>
<text x="170.0" y="399.8" font-size="5.7" stroke="#111" stroke-width="0.12" text-anchor="middle" fill="#111">mg</text>
<text x="193.0" y="392.9" font-size="5.7" stroke="#111" stroke-width="0.12" text-anchor="middle" fill="#111">1600</text>
<text x="193.0" y="399.8" font-size="5.7" stroke="#111" stroke-width="0.12" text-anchor="middle" fill="#111">mg</text>
<text x="216.2" y="392.9" font-size="5.7" stroke="#111" stroke-width="0.12" text-anchor="middle" fill="#111">2400</text>
<text x="216.2" y="399.8" font-size="5.7" stroke="#111" stroke-width="0.12" text-anchor="middle" fill="#111">mg</text>
<text transform="translate(263.7 392.9) scale(0.97 1)" font-size="5.7" stroke="#111" stroke-width="0.12" text-anchor="middle" fill="#111">2400 mg every 8 wks</text>
<text transform="translate(263.7 399.8) scale(0.97 1)" font-size="5.7" stroke="#111" stroke-width="0.12" text-anchor="middle" fill="#111">for 3 doses</text>
<text x="182.5" y="360.4" font-size="5.7" stroke="#111" stroke-width="0.12" text-anchor="middle" fill="#111">2 wks</text>
<text x="204.7" y="360.4" font-size="5.7" stroke="#111" stroke-width="0.12" text-anchor="middle" fill="#111">2 wks</text>
<text x="239.5" y="360.4" font-size="5.7" stroke="#111" stroke-width="0.12" text-anchor="middle" fill="#111">8 wks</text>
<text x="193.0" y="366.2" font-size="5.7" stroke="#111" stroke-width="0.12" text-anchor="middle" fill="#111">D15</text>
<text x="216.2" y="366.2" font-size="5.7" stroke="#111" stroke-width="0.12" text-anchor="middle" fill="#111">D29</text>
<text x="262.7" y="366.2" font-size="5.7" stroke="#111" stroke-width="0.12" text-anchor="middle" fill="#111">D85</text>
<text transform="translate(386.8 380.5) scale(0.96 1)" font-size="7.0" font-weight="bold" stroke="#000" stroke-width="0.35" text-anchor="middle" fill="#000">2400 mg every 8 wks</text>
<line x1="152.0" y1="423.2" x2="182.8" y2="423.2" stroke="#111" stroke-width="1.6"/>
<polygon points="187.8,423.2 181.8,420.8 182.6,423.2 181.8,425.6" fill="#111"/>
<line x1="189.5" y1="423.2" x2="236.0" y2="423.2" stroke="#111" stroke-width="1.5"/>
<line x1="237.2" y1="423.2" x2="368.3" y2="423.2" stroke="#111" stroke-width="1.8" stroke-dasharray="3.8 3.0"/>
<polygon points="373.4,423.2 367.8,420.9 368.6,423.2 367.8,425.5" fill="#111"/>
<line x1="376.0" y1="423.2" x2="414.3" y2="423.2" stroke="#111" stroke-width="1.6"/>
<polygon points="419.3,423.2 413.3,420.8 414.1,423.2 413.3,425.6" fill="#111"/>
<line x1="189.4" y1="430.6" x2="189.4" y2="438.5" stroke="#111" stroke-width="1.7"/>
<polygon points="189.4,426.6 187.0,432.4 189.4,431.6 191.8,432.4" fill="#111"/>
<line x1="234.5" y1="430.6" x2="234.5" y2="438.5" stroke="#7a1238" stroke-width="1.7"/>
<polygon points="234.5,426.6 232.1,432.4 234.5,431.6 236.9,432.4" fill="#7a1238"/>
<text x="190.0" y="446.6" font-size="5.7" stroke="#111" stroke-width="0.12" text-anchor="middle" fill="#111">3000</text>
<text x="190.0" y="453.6" font-size="5.7" stroke="#111" stroke-width="0.12" text-anchor="middle" fill="#111">mg</text>
<text transform="translate(234.2 446.6) scale(0.97 1)" font-size="5.7" stroke="#111" stroke-width="0.12" text-anchor="middle" fill="#111">5400 mg every 12 wks</text>
<text transform="translate(234.2 453.6) scale(0.97 1)" font-size="5.7" stroke="#111" stroke-width="0.12" text-anchor="middle" fill="#111">for 3 doses</text>
<text x="212.9" y="412.9" font-size="5.7" stroke="#111" stroke-width="0.12" text-anchor="middle" fill="#111">4 wks</text>
<text x="234.0" y="418.7" font-size="5.7" stroke="#111" stroke-width="0.12" text-anchor="middle" fill="#111">D29</text>
<text transform="translate(395.8 432.6) scale(0.96 1)" font-size="7.0" font-weight="bold" stroke="#000" stroke-width="0.35" text-anchor="middle" fill="#000">5400 mg every 12 wks</text>
<line x1="18.6" y1="439.0" x2="18.6" y2="454.5" stroke="#111" stroke-width="1.7"/>
<polygon points="18.6,435.0 16.2,440.8 18.6,440.0 21.0,440.8" fill="#111"/>
<line x1="54.2" y1="439.0" x2="54.2" y2="454.5" stroke="#7a1238" stroke-width="1.7"/>
<polygon points="54.2,435.0 51.8,440.8 54.2,440.0 56.6,440.8" fill="#7a1238"/>
<rect x="5" y="442.6" width="28" height="4.8" fill="#fff"/>
<rect x="36" y="442.6" width="37" height="4.8" fill="#fff"/>
<text x="19.2" y="447.0" font-size="5.8" font-weight="bold" stroke="#222" stroke-width="0.35" text-anchor="middle" fill="#222">Induction</text>
<text x="54.5" y="447.0" font-size="5.8" font-weight="bold" stroke="#111" stroke-width="0.35" text-anchor="middle" fill="#111">Maintenance</text>
<rect x="0.75" y="0.75" width="518.5" height="460.5" fill="none" stroke="#000" stroke-width="1.5"/>
</svg>
</body></html>
